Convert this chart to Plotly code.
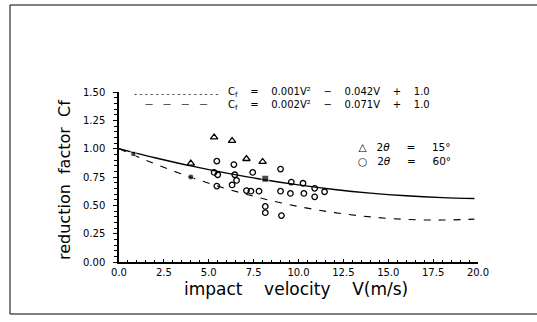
import plotly.graph_objects as go

# ---- data ----
curve_v = [0, 1, 2, 4, 6, 8, 10, 12, 14, 16, 18, 19.8]
fit60_cf = [1.0, 0.959, 0.920, 0.848, 0.784, 0.728, 0.680, 0.640, 0.608, 0.584, 0.568, 0.560]
fit15_cf = [1.0, 0.931, 0.866, 0.748, 0.646, 0.560, 0.490, 0.436, 0.398, 0.376, 0.370, 0.378]

tri_v = [4.0, 5.3, 6.3, 7.1, 8.0]
tri_cf = [0.87, 1.10, 1.07, 0.91, 0.885]

circ_v = [5.45, 5.3, 5.5, 5.45, 6.4, 6.45, 6.55, 6.3, 7.45, 7.1, 7.35, 7.8,
          8.15, 8.15, 9.0, 9.0, 9.05, 9.6, 9.55, 10.25, 10.3, 10.9, 10.9, 11.45]
circ_cf = [0.89, 0.79, 0.77, 0.67, 0.86, 0.77, 0.72, 0.68, 0.79, 0.63, 0.625, 0.625,
           0.49, 0.435, 0.82, 0.625, 0.41, 0.705, 0.605, 0.695, 0.605, 0.65, 0.575, 0.62]

fill_v = [0.8, 4.0, 8.15]
fill_cf = [0.955, 0.75, 0.735]
fill_sym = ["square", "circle", "square"]

x_ticks = [0, 2.5, 5, 7.5, 10, 12.5, 15, 17.5, 20]
x_labels = ["0.0", "2.5", "5.0", "7.5", "10.0", "12.5", "15.0", "17.5", "20.0"]
y_ticks = [0, 0.25, 0.5, 0.75, 1.0, 1.25, 1.5]
y_labels = ["0.00", "0.25", "0.50", "0.75", "1.00", "1.25", "1.50"]

FONT = "DejaVu Sans"

fig = go.Figure()
fig.add_trace(go.Scatter(x=curve_v, y=fit60_cf, mode="lines",
                         line=dict(color="black", width=1.4, shape="spline")))
fig.add_trace(go.Scatter(x=curve_v, y=fit15_cf, mode="lines",
                         line=dict(color="black", width=1.1, dash="7px,8px", shape="spline")))
fig.add_trace(go.Scatter(x=circ_v, y=circ_cf, mode="markers",
                         marker=dict(symbol="circle-open", size=5.5, color="black",
                                     line=dict(width=1.3, color="black"))))
fig.add_trace(go.Scatter(x=tri_v, y=tri_cf, mode="markers",
                         marker=dict(symbol="triangle-up-open", size=6.5, color="black",
                                     line=dict(width=1.3, color="black"))))
fig.add_trace(go.Scatter(x=fill_v, y=fill_cf, mode="markers",
                         marker=dict(symbol=fill_sym, size=[5, 6, 7], color="black")))

L, R, T, B = 119, 59, 92, 60
W, H = 537 - L - R, 322 - T - B

def px(x):
    return (x - L) / W

def py(y):
    return (322 - B - y) / H

ann = []
ann.append(dict(x=px(132), y=py(99), xref="paper", yref="paper", xanchor="left", yanchor="middle",
                text="- - - - - - - - - - - - - - - -<br>—    —    —    —", showarrow=False,
                font=dict(family=FONT, size=8, color="black")))
ann.append(dict(x=px(226), y=py(99), xref="paper", yref="paper", xanchor="left", yanchor="middle",
                text="C<sub>f</sub>    =    0.001V²    −    0.042V    +    1.0<br>"
                     "C<sub>f</sub>    =    0.002V²    −    0.071V    +    1.0",
                showarrow=False, font=dict(family=FONT, size=10, color="black")))
ann.append(dict(x=px(356), y=py(154), xref="paper", yref="paper", xanchor="left", yanchor="middle",
                text="△   2<i>θ</i>     =     15°<br>○   2<i>θ</i>     =     60°", showarrow=False,
                font=dict(family=FONT, size=10.5, color="black")))
ann.append(dict(x=px(64), y=py(180), xref="paper", yref="paper", xanchor="center", yanchor="middle",
                text="reduction  factor  Cf", textangle=-90, showarrow=False,
                font=dict(family=FONT, size=16, color="black")))
ann.append(dict(x=px(296), y=py(289), xref="paper", yref="paper", xanchor="center", yanchor="middle",
                text="impact    velocity    V(m/s)", showarrow=False,
                font=dict(family=FONT, size=17, color="black")))

fig.update_layout(
    width=537, height=322,
    margin=dict(l=L, r=R, t=T, b=B),
    paper_bgcolor="white", plot_bgcolor="white",
    showlegend=False,
    annotations=ann,
    shapes=[dict(type="rect", xref="paper", yref="paper",
                 x0=px(10), x1=px(560), y0=py(314), y1=py(5),
                 line=dict(color="black", width=1))],
    xaxis=dict(range=[0, 20], tickvals=x_ticks, ticktext=x_labels,
               showgrid=False, zeroline=False, showline=True, linecolor="black", linewidth=1.5,
               ticks="inside", ticklen=3, tickcolor="black",
               minor=dict(dtick=0.5, ticks="inside", ticklen=2, tickcolor="black"),
               tickfont=dict(family=FONT, size=10, color="black")),
    yaxis=dict(range=[0, 1.5], tickvals=y_ticks, ticktext=y_labels,
               showgrid=False, zeroline=False, showline=True, linecolor="black", linewidth=1.5,
               ticks="outside", ticklen=4, tickcolor="black", ticklabelstandoff=6,
               minor=dict(dtick=0.05, ticks="outside", ticklen=3, tickcolor="black"),
               tickfont=dict(family=FONT, size=10, color="black")),
)

fig.write_html("out.html")
